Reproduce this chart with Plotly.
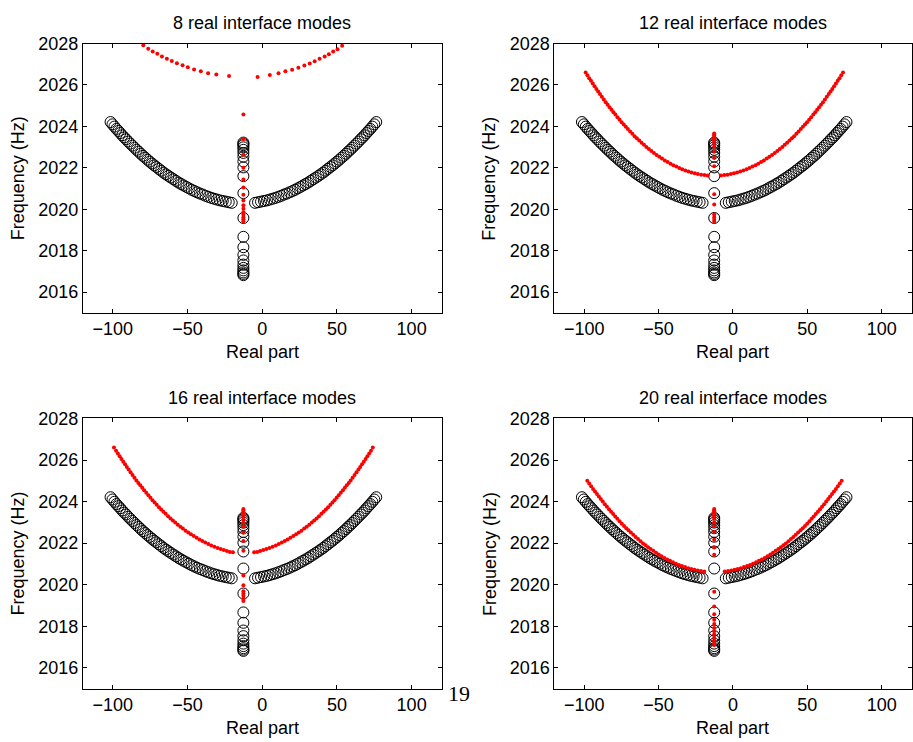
import plotly.graph_objects as go

# ---------------- data ----------------
titles = ["8 real interface modes", "12 real interface modes",
          "16 real interface modes", "20 real interface modes"]
x_ticks = [-100, -50, 0, 50, 100]
y_ticks = [2016, 2018, 2020, 2022, 2024, 2026, 2028]

# black open circles (same reference spectrum in every panel)
black_left_x = [-20.4, -22.4, -24.4, -26.4, -28.4, -30.3, -32.2, -34.1, -36.0, -37.9,
                -39.8, -41.7, -43.6, -45.4, -47.2, -49.0, -50.8, -52.6, -54.3, -56.0,
                -57.7, -59.4, -61.1, -62.8, -64.4, -66.0, -67.6, -69.2, -70.8, -72.3,
                -73.8, -75.3, -76.8, -78.3, -79.8, -81.3, -82.7, -84.1, -85.5, -86.9,
                -88.3, -89.7, -91.1, -92.4, -93.7, -95.0, -96.3, -97.6, -98.9, -100.2, -101.5]
black_right_x = [-4.8, -2.8, -0.8, 1.2, 3.2, 5.1, 7.0, 8.9, 10.8, 12.7,
                 14.6, 16.5, 18.4, 20.2, 22.0, 23.8, 25.6, 27.4, 29.1, 30.8,
                 32.5, 34.2, 35.9, 37.6, 39.2, 40.8, 42.4, 44.0, 45.6, 47.1,
                 48.6, 50.1, 51.6, 53.1, 54.6, 56.1, 57.5, 58.9, 60.3, 61.7,
                 63.1, 64.5, 65.9, 67.2, 68.5, 69.8, 71.1, 72.4, 73.7, 75.0, 76.3]
black_branch_y = [2020.31, 2020.34, 2020.37, 2020.40, 2020.43, 2020.47, 2020.51, 2020.55, 2020.60, 2020.65,
                  2020.71, 2020.76, 2020.82, 2020.88, 2020.94, 2021.01, 2021.08, 2021.15, 2021.22, 2021.29,
                  2021.37, 2021.45, 2021.53, 2021.61, 2021.69, 2021.77, 2021.86, 2021.95, 2022.04, 2022.12,
                  2022.21, 2022.30, 2022.39, 2022.49, 2022.58, 2022.68, 2022.78, 2022.87, 2022.97, 2023.07,
                  2023.17, 2023.27, 2023.38, 2023.47, 2023.57, 2023.68, 2023.78, 2023.88, 2023.99, 2024.10, 2024.21]
column_x = -12.6
black_column_y = [2023.22, 2023.16, 2023.09, 2022.99, 2022.87, 2022.72, 2022.54, 2022.31, 2022.02, 2021.60,
                  2020.78, 2019.58, 2018.67, 2018.17, 2017.80, 2017.53, 2017.33, 2017.17, 2017.05, 2016.95,
                  2016.88, 2016.82]

# red dots, panel 1 (8 modes)
red1_left_x = [-79.6, -76.3, -73.3, -70.2, -67.1, -63.8, -60.5, -57.1, -53.3, -49.8, -45.6, -41.1, -36.2, -30.7, -22.2]
red1_left_y = [2027.92, 2027.75, 2027.62, 2027.51, 2027.38, 2027.27, 2027.16, 2027.05, 2026.95, 2026.86,
               2026.75, 2026.66, 2026.57, 2026.51, 2026.43]
red1_right_x = [-3.1, 5.1, 10.9, 15.5, 20.0, 24.2, 28.2, 31.8, 35.1, 38.4, 41.8, 44.6, 47.5, 50.4, 53.5]
red1_right_y = [2026.38, 2026.48, 2026.57, 2026.66, 2026.74, 2026.83, 2026.94, 2027.04, 2027.14, 2027.26,
                2027.37, 2027.48, 2027.61, 2027.73, 2027.89]
red1_column_y = [2024.58, 2023.39, 2022.63, 2022.00, 2021.44, 2021.05, 2020.70, 2020.42, 2020.19, 2020.02,
                 2019.86, 2019.75, 2019.62, 2019.52, 2019.42]

# red dots, panel 2 (12 modes)
red2_left_x = [-17.0, -19.2, -21.4, -23.6, -25.7, -27.8, -29.9, -32.0, -34.1, -36.1,
               -38.1, -40.1, -42.0, -43.9, -45.8, -47.7, -49.5, -51.3, -53.1, -54.8,
               -56.5, -58.2, -59.8, -61.4, -63.0, -64.6, -66.1, -67.6, -69.1, -70.6,
               -72.0, -73.4, -74.8, -76.2, -77.6, -79.0, -80.3, -81.6, -82.9, -84.2,
               -85.5, -86.8, -88.1, -89.4, -90.6, -91.8, -93.0, -94.2, -95.4, -96.6, -97.8, -99.0]
red2_right_x = [-8.0, -5.8, -3.6, -1.4, 0.7, 2.8, 4.9, 7.0, 9.1, 11.1,
                13.1, 15.1, 17.0, 18.9, 20.8, 22.7, 24.5, 26.3, 28.1, 29.8,
                31.5, 33.2, 34.8, 36.4, 38.0, 39.6, 41.1, 42.6, 44.1, 45.6,
                47.0, 48.4, 49.8, 51.2, 52.6, 54.0, 55.3, 56.6, 57.9, 59.2,
                60.5, 61.8, 63.1, 64.4, 65.6, 66.8, 68.0, 69.2, 70.4, 71.6, 72.8, 74.0]
red2_branch_y = [2021.63, 2021.65, 2021.67, 2021.70, 2021.74, 2021.78, 2021.82, 2021.87, 2021.93, 2021.99,
                 2022.06, 2022.13, 2022.20, 2022.28, 2022.36, 2022.45, 2022.53, 2022.62, 2022.72, 2022.81,
                 2022.91, 2023.01, 2023.11, 2023.21, 2023.32, 2023.43, 2023.53, 2023.64, 2023.75, 2023.87,
                 2023.98, 2024.09, 2024.20, 2024.32, 2024.44, 2024.57, 2024.68, 2024.80, 2024.92, 2025.04,
                 2025.17, 2025.30, 2025.43, 2025.56, 2025.68, 2025.81, 2025.94, 2026.07, 2026.20, 2026.33,
                 2026.47, 2026.60]
red2_column_y = [2023.66, 2023.60, 2023.55, 2023.49, 2023.43, 2023.37, 2023.30, 2023.19, 2023.03, 2022.79,
                 2022.48, 2022.08, 2020.73, 2020.23, 2019.75, 2019.62, 2019.50, 2019.40]

# red dots, panel 3 (16 modes)
red3_left_x = [-19.6, -21.6, -23.6, -25.7, -27.8, -29.9, -32.0, -34.1, -36.1,
               -38.1, -40.1, -42.0, -43.9, -45.8, -47.7, -49.5, -51.3, -53.1, -54.8,
               -56.5, -58.2, -59.8, -61.4, -63.0, -64.6, -66.1, -67.6, -69.1, -70.6,
               -72.0, -73.4, -74.8, -76.2, -77.6, -79.0, -80.3, -81.6, -82.9, -84.2,
               -85.5, -86.8, -88.1, -89.4, -90.6, -91.8, -93.0, -94.2, -95.4, -96.6, -97.8, -99.2]
red3_right_x = [-5.4, -3.4, -1.4, 0.7, 2.8, 4.9, 7.0, 9.1, 11.1,
                13.1, 15.1, 17.0, 18.9, 20.8, 22.7, 24.5, 26.3, 28.1, 29.8,
                31.5, 33.2, 34.8, 36.4, 38.0, 39.6, 41.1, 42.6, 44.1, 45.6,
                47.0, 48.4, 49.8, 51.2, 52.6, 54.0, 55.3, 56.6, 57.9, 59.2,
                60.5, 61.8, 63.1, 64.4, 65.6, 66.8, 68.0, 69.2, 70.4, 71.6, 72.8, 74.0]
red3_branch_y = [2021.56, 2021.58, 2021.62, 2021.67, 2021.72, 2021.77, 2021.83, 2021.89, 2021.96,
                 2022.03, 2022.10, 2022.18, 2022.26, 2022.34, 2022.43, 2022.51, 2022.60, 2022.70, 2022.79,
                 2022.89, 2022.99, 2023.09, 2023.19, 2023.30, 2023.41, 2023.51, 2023.62, 2023.73, 2023.85,
                 2023.96, 2024.07, 2024.18, 2024.30, 2024.42, 2024.55, 2024.66, 2024.78, 2024.90, 2025.02,
                 2025.15, 2025.28, 2025.41, 2025.54, 2025.66, 2025.79, 2025.92, 2026.05, 2026.18, 2026.31,
                 2026.45, 2026.60]
red3_column_y = [2023.64, 2023.58, 2023.51, 2023.45, 2023.39, 2023.32, 2023.26, 2023.13, 2022.98, 2022.79,
                 2022.50, 2022.11, 2021.64, 2020.45, 2019.98, 2019.69, 2019.58, 2019.47, 2019.34, 2019.22]

# red dots, panel 4 (20 modes)
red4_left_x = [-19.3, -21.5, -23.7, -25.9, -28.0, -30.1, -32.2, -34.3, -36.3, -38.3,
               -40.3, -42.3, -44.2, -46.1, -48.0, -49.9, -51.7, -53.5, -55.3, -57.0,
               -58.7, -60.4, -62.1, -63.8, -65.4, -67.0, -68.6, -70.2, -71.7, -73.2,
               -74.7, -76.2, -77.7, -79.1, -80.5, -81.9, -83.3, -84.7, -86.1, -87.5,
               -88.8, -90.1, -91.4, -92.7, -94.0, -95.3, -96.6, -97.9]
red4_right_x = [-5.5, -3.3, -1.1, 1.1, 3.2, 5.3, 7.4, 9.5, 11.5, 13.5,
                15.5, 17.5, 19.4, 21.3, 23.2, 25.1, 26.9, 28.7, 30.5, 32.2,
                33.9, 35.6, 37.3, 39.0, 40.6, 42.2, 43.8, 45.4, 46.9, 48.4,
                49.9, 51.4, 52.9, 54.3, 55.7, 57.1, 58.5, 59.9, 61.3, 62.7,
                64.0, 65.3, 66.6, 67.9, 69.2, 70.5, 71.8, 73.1]
red4_branch_y = [2020.64, 2020.66, 2020.69, 2020.72, 2020.76, 2020.80, 2020.85, 2020.90, 2020.95, 2021.01,
                 2021.08, 2021.15, 2021.22, 2021.29, 2021.37, 2021.46, 2021.54, 2021.63, 2021.72, 2021.81,
                 2021.90, 2021.99, 2022.09, 2022.20, 2022.30, 2022.40, 2022.51, 2022.62, 2022.72, 2022.83,
                 2022.94, 2023.06, 2023.17, 2023.28, 2023.40, 2023.51, 2023.63, 2023.75, 2023.87, 2024.00,
                 2024.12, 2024.24, 2024.36, 2024.49, 2024.61, 2024.74, 2024.87, 2025.00]
red4_column_y = [2023.64, 2023.58, 2023.53, 2023.47, 2023.42, 2023.35, 2023.29, 2023.17, 2023.01, 2022.82,
                 2022.54, 2022.16, 2021.79, 2021.44, 2019.66, 2018.95, 2018.58, 2018.32, 2018.11, 2017.92,
                 2017.76, 2017.61, 2017.45, 2017.32, 2017.19, 2017.10]

red_sets = [
    (red1_left_x, red1_left_y, red1_right_x, red1_right_y, red1_column_y),
    (red2_left_x, red2_branch_y, red2_right_x, red2_branch_y, red2_column_y),
    (red3_left_x, red3_branch_y, red3_right_x, red3_branch_y, red3_column_y),
    (red4_left_x, red4_branch_y, red4_right_x, red4_branch_y, red4_column_y),
]

# ---------------- layout geometry (pixels) ----------------
W, H = 913, 742
boxes = [  # (left, right, top, bottom) in pixels
    (83, 442, 34, 307),
    (555, 912.5, 34, 307),
    (83, 442, 414, 688),
    (555, 912.5, 414, 688),
]
FONT = "Liberation Sans, Arial, Helvetica, sans-serif"
FS = 18

fig = go.Figure()
annotations = []

for i, (box, red) in enumerate(zip(boxes, red_sets)):
    n = i + 1
    xa = "x" if n == 1 else f"x{n}"
    ya = "y" if n == 1 else f"y{n}"
    l, r, t, b = box

    fig.add_trace(go.Scatter(
        x=black_left_x + black_right_x + [column_x] * len(black_column_y),
        y=black_branch_y + black_branch_y + black_column_y,
        mode="markers", xaxis=xa, yaxis=ya,
        marker=dict(symbol="circle-open", size=11, color="black", line=dict(width=1, color="black")),
        showlegend=False, hoverinfo="x+y"))
    lx, ly, rx, ry, cy = red
    fig.add_trace(go.Scatter(
        x=lx + rx + [column_x] * len(cy),
        y=ly + ry + cy,
        mode="markers", xaxis=xa, yaxis=ya,
        marker=dict(symbol="circle", size=4, color="#ff0000", line=dict(width=0)),
        showlegend=False, hoverinfo="x+y"))

    axis_common = dict(
        showline=True, linecolor="black", linewidth=1, mirror="ticks",
        ticks="inside", ticklen=4, tickwidth=1, tickcolor="black",
        showgrid=False, zeroline=False,
        tickfont=dict(family=FONT, size=FS, color="black"),
    )
    fig.update_layout(**{
        ("xaxis" if n == 1 else f"xaxis{n}"): dict(
            domain=[l / W, r / W], anchor=ya, range=[-120, 120],
            tickvals=x_ticks, **axis_common),
        ("yaxis" if n == 1 else f"yaxis{n}"): dict(
            domain=[1 - b / H, 1 - t / H], anchor=xa, range=[2015, 2028],
            tickvals=y_ticks, **axis_common),
    })

    cx = (l + r) / 2
    cyy = (t + b) / 2
    # subplot title
    annotations.append(dict(text=titles[i], x=cx / W, y=1 - (t - 21) / H, xref="paper", yref="paper",
                            xanchor="center", yanchor="middle", showarrow=False,
                            font=dict(family=FONT, size=FS, color="black")))
    # x axis title
    annotations.append(dict(text="Real part", x=cx / W, y=1 - (b + 39.5) / H, xref="paper", yref="paper",
                            xanchor="center", yanchor="middle", showarrow=False,
                            font=dict(family=FONT, size=FS, color="black")))
    # y axis title
    annotations.append(dict(text="Frequency (Hz)", x=(l - 65) / W, y=1 - cyy / H, xref="paper", yref="paper",
                            xanchor="center", yanchor="middle", showarrow=False, textangle=-90,
                            font=dict(family=FONT, size=FS, color="black")))

# page number from the source document
annotations.append(dict(text="19", x=460 / W, y=1 - 693 / H, xref="paper", yref="paper",
                        xanchor="center", yanchor="middle", showarrow=False,
                        font=dict(family="Liberation Serif, DejaVu Serif, serif", size=22, color="black")))

fig.update_layout(
    width=W, height=H,
    margin=dict(l=0, r=0, t=0, b=0),
    paper_bgcolor="white", plot_bgcolor="white",
    showlegend=False,
    annotations=annotations,
)

pin_page = (
    "document.documentElement.style.margin='0px';"
    "document.body.style.margin='0px';"
    "document.documentElement.style.overflow='hidden';"
    "document.body.style.overflow='hidden';"
    "var g=document.getElementById('{plot_id}');"
    "g.style.position='fixed';g.style.left='0px';g.style.top='0px';g.style.zIndex='10';"
)
fig.write_html("out.html", config={"displayModeBar": False}, post_script=pin_page)
